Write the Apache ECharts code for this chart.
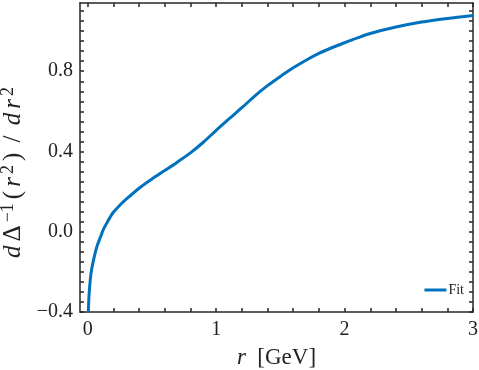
<!doctype html>
<html>
<head>
    <meta charset="utf-8">
    <title>Fit</title>
    <style>
        html, body { margin: 0; padding: 0; background: #fff; }
        #chart { width: 479px; height: 370px; }
    </style>
</head>
<body>
    <div id="chart"></div>
    <script src="https://cdn.jsdelivr.net/npm/echarts@6/dist/echarts.min.js"></script>
    <script>
        // values
        var rValues = [0.005, 0.01, 0.02, 0.03, 0.05, 0.07, 0.1, 0.125, 0.15, 0.175, 0.2, 0.25, 0.3, 0.4, 0.5, 0.6,
            0.7, 0.8, 0.9, 1.0, 1.1, 1.2, 1.3, 1.4, 1.5, 1.6, 1.7, 1.8, 1.9, 2.0, 2.1, 2.2, 2.4, 2.6, 2.8, 3.0];
        var fitValues = [-0.40, -0.32, -0.24, -0.19, -0.128, -0.077, -0.025, 0.015, 0.045, 0.073, 0.097, 0.132, 0.162,
            0.217, 0.263, 0.305, 0.348, 0.393, 0.446, 0.505, 0.562, 0.618, 0.676, 0.728, 0.774, 0.817, 0.855, 0.889,
            0.917, 0.942, 0.966, 0.988, 1.02, 1.045, 1.063, 1.078];

        var xLabels = [0, 1, 2, 3];
        var xTicks = [0, 0.2, 0.4, 0.6, 0.8, 1, 1.2, 1.4, 1.6, 1.8, 2, 2.2, 2.4, 2.6, 2.8, 3];
        var yLabels = [-0.4, 0, 0.4, 0.8];
        var yTicks = [-0.4, -0.35, -0.3, -0.25, -0.2, -0.15, -0.1, -0.05, 0, 0.05, 0.1, 0.15, 0.2, 0.25, 0.3, 0.35,
            0.4, 0.45, 0.5, 0.55, 0.6, 0.65, 0.7, 0.75, 0.8, 0.85, 0.9, 0.95, 1.0, 1.05, 1.1];

        var data = [];
        for (var i = 0; i < rValues.length; i++) {
            data.push([rValues[i], fitValues[i]]);
        }

        var serif = 'Liberation Serif';
        var frame = '#262626';
        var ink = '#222';

        var xBase = {
            type: 'value', min: -0.06, max: 3,
            axisLine: { show: true, onZero: false, lineStyle: { color: frame, width: 1.5 } },
            axisTick: { show: true, inside: true, length: 4, customValues: xTicks, lineStyle: { color: frame, width: 1.5 } },
            splitLine: { show: false }
        };
        var yBase = {
            type: 'value', min: -0.4, max: 1.14,
            axisLine: { show: true, onZero: false, lineStyle: { color: frame, width: 1.5 } },
            axisTick: { show: true, inside: true, length: 4, customValues: yTicks, lineStyle: { color: frame, width: 1.5 } },
            splitLine: { show: false }
        };

        var chart = echarts.init(document.getElementById('chart'));
        chart.setOption({
            animation: false,
            grid: { left: 80, top: 3, right: 6, bottom: 58, outerBoundsMode: 'none', containLabel: false },
            legend: {
                right: 10, bottom: 68,
                icon: 'rect', itemWidth: 22, itemHeight: 3, itemGap: 4,
                textStyle: { fontFamily: serif, fontSize: 14, color: ink, padding: [0, 0, 0, -3] },
                data: ['Fit']
            },
            xAxis: [
                Object.assign({}, xBase, {
                    position: 'bottom',
                    name: '{i|r}  [GeV]', nameLocation: 'middle', nameGap: 34,
                    nameTextStyle: {
                        fontFamily: serif, fontSize: 23, color: ink,
                        rich: { i: { fontFamily: serif, fontStyle: 'italic', fontSize: 23, color: ink } }
                    },
                    axisLabel: {
                        show: true, customValues: xLabels, margin: 8,
                        fontFamily: serif, fontSize: 20, color: ink,
                        formatter: function (v) { return String(v); }
                    }
                }),
                Object.assign({}, xBase, { position: 'top', axisLabel: { show: false } })
            ],
            yAxis: [
                Object.assign({}, yBase, {
                    position: 'left',
                    name: '{i|d}{n|Δ}{s|−1}{n|(}{i|r}{s|2}{n|)}{n| / }{i|d}{i|r}{s|2}',
                    nameLocation: 'middle', nameGap: 48, nameRotate: 90,
                    nameTextStyle: {
                        fontFamily: serif, fontSize: 25, color: ink, padding: [0, 30, 0, 0],
                        rich: {
                            i: { fontFamily: serif, fontStyle: 'italic', fontSize: 25, color: ink, padding: [0, 2, 0, 2] },
                            n: { fontFamily: serif, fontSize: 25, color: ink, padding: [0, 2, 0, 2] },
                            s: { fontFamily: serif, fontSize: 18, color: ink, verticalAlign: 'top', padding: [0, 2, 10, 1] }
                        }
                    },
                    axisLabel: {
                        show: true, customValues: yLabels, margin: 7,
                        fontFamily: serif, fontSize: 20, color: ink,
                        formatter: function (v) { return v.toFixed(1).replace('-', '\u2212'); }
                    }
                }),
                Object.assign({}, yBase, { position: 'right', axisLabel: { show: false } })
            ],
            series: [{
                name: 'Fit',
                type: 'line',
                data: data,
                smooth: 0.3,
                showSymbol: false,
                lineStyle: { color: '#0072BD', width: 3 },
                itemStyle: { color: '#0072BD' }
            }]
        });
    </script>
</body>
</html>
